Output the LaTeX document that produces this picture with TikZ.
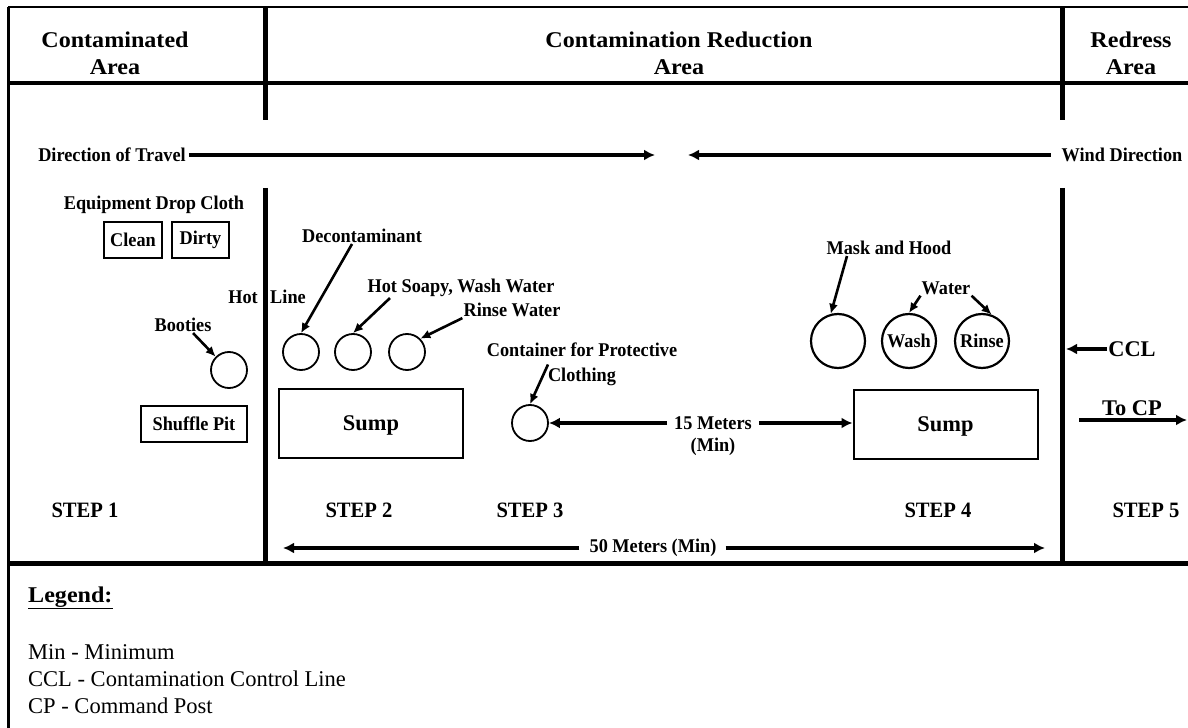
\documentclass[tikz,border=0pt]{standalone}
\usepackage{fontspec}
\setmainfont{Liberation Serif}
\newfontfamily\hdrfont[FakeStretch=1.07]{Liberation Serif}
\newfontfamily\lblfont[FakeStretch=0.94]{Liberation Serif}
\usetikzlibrary{arrows.meta}

\begin{document}
\begin{tikzpicture}[x=1bp, y=-1bp,
      hdr/.style={font=\hdrfont\bfseries\fontsize{22.6}{27}\selectfont, align=center},
      lbl/.style={font=\lblfont\bfseries\fontsize{19.5}{25}\selectfont, inner sep=1bp,
                  align=center},
      stp/.style={font=\lblfont\bfseries\fontsize{22}{26}\selectfont},
      big/.style={font=\bfseries\fontsize{22.5}{26}\selectfont, inner sep=1bp},
      box/.style={draw, line width=2bp, minimum height=36bp, inner sep=0pt},
      smp/.style={box, big, text depth=0pt, minimum width=184bp, minimum height=69bp},
      pot/.style={draw, circle, line width=1.8bp, minimum size=36bp, inner sep=0pt},
      tub/.style={pot, line width=2.2bp, minimum size=54bp},
      wall/.style={line width=5bp},
      arw/.style={line width=3.6bp, -{Latex[length=11bp,width=11bp]}},
      ptr/.style={line width=2.6bp, -{Latex[length=10bp,width=9bp]}},
      leg/.style={font=\fontsize{22.6}{27}\selectfont, align=left, anchor=west,
                  inner sep=0pt}]

    %% Geometry: one unit = one pixel of the 1188 x 728 sheet, y runs downwards.
    \useasboundingbox (0,0) rectangle (1188,728);

    %% ---- frame and the three area walls ----
    \draw[line width=2.5bp] (8,7) -- (1188,7);
    \draw[line width=3bp] (8,7) -- (8,728);
    \draw[line width=4.5bp] (8,83) -- (1188,83);
    \draw[wall] (8,563) -- (1188,563);
    \foreach \x in {265,1062} {
      \draw[wall] (\x,7) -- (\x,120);
      \draw[wall] (\x,188) -- (\x,563);
    }

    \node[hdr] (hCA) at (115,53.5) {Contaminated\\Area};
    \node[hdr] (hCR) at (679,53.5) {Contamination Reduction\\Area};
    \node[hdr] (hRA) at (1131,53.5) {Redress\\Area};

    %% ---- travel against the wind ----
    \node[lbl] (dot) at (112,155) {Direction of Travel};
    \coordinate (dotTip) at (655,155);
    \draw[arw, shorten <=2bp] (dot.east) -- (dotTip);
    \node[lbl] (wnd) at (1122,155) {Wind Direction};
    \coordinate (wndTip) at (688,155);
    \draw[arw, shorten <=10bp] (wnd.west) -- (wndTip);

    %% ---- step 1: contaminated area ----
    \node[lbl] (edc) at (154,205) {Equipment Drop Cloth};
    \node[lbl, box, minimum width=58bp] (cln) at (133,240) {Clean};
    \node[lbl, box, minimum width=57bp] (drt) at (200.5,240) {Dirty};
    \node[lbl] (hot) at (243,297) {Hot};
    \node[lbl] (hln) at (288,297) {Line};
    \node[lbl] (bts) at (183,325) {Booties};
    \node[pot] (bt) at (229,370) {};
    \draw[ptr] ([xshift=10bp]bts.south) -- (bt.135);
    \node[lbl, box, minimum width=106bp] (shf) at (194,424) {Shuffle Pit};

    %% ---- step 2: wash and rinse ----
    \node[pot] (dcn) at (301,352) {};
    \node[pot] (hsw) at (353,352) {};
    \node[pot] (rnw) at (407,352) {};
    \node[lbl] (dcnL) at (362,236) {Decontaminant};
    \node[lbl] (hswL) at (461,288) {Hot Soapy, Wash Water};
    \node[lbl] (rnwL) at (512,310) {Rinse Water};
    \draw[ptr] ([xshift=-10bp]dcnL.south) -- (dcn.north);
    \draw[ptr] ([xshift=-71bp]hswL.south) -- (hsw.north);
    \draw[ptr] (rnwL.south west) -- (rnw.45);
    \node[smp] (smp1) at (371,423.5) {Sump};

    %% ---- step 3: protective clothing, 15 m ahead of the second sump ----
    \node[pot] (cnt) at (530,423) {};
    \node[lbl] (cntL) at (582,364.5) {Container for Protective\\Clothing};
    \draw[ptr] ([xshift=-34bp]cntL.center) -- (cnt.north);
    \node[lbl] (m15) at (713,423) {15 Meters};
    \node[lbl] (m15b) at (713,447) {(Min)};

    %% ---- step 4: mask and hood ----
    \node[tub] (msk) at (838,341) {};
    \node[lbl, tub] (wsh) at (909,341) {Wash};
    \node[lbl, tub] (rns) at (982,341) {Rinse};
    \node[lbl] (mhL) at (889,248) {Mask and Hood};
    \draw[ptr] ([xshift=-42bp]mhL.south) -- (msk.105);
    \node[lbl] (wtr) at (946,288) {Water};
    \draw[ptr] (wtr.south west) -- (wsh.north);
    \draw[ptr] (wtr.south east) -- (rns.70);
    \node[smp] (smp2) at (945.5,424) {Sump};
    \draw[arw, shorten <=6bp] (m15.west) -- (cnt.east);
    \draw[arw, shorten <=6bp] (m15.east) -- (m15.east -| smp2.west);

    %% ---- step 5: redress area ----
    \node[big] (ccl) at (1132,349) {CCL};
    \coordinate (cclTip) at (1066,349);
    \draw[arw] (ccl.west) -- (cclTip);
    \node[big] (tcp) at (1132,408) {To CP};
    \coordinate (tcpA) at (1079,420);
    \coordinate (tcpB) at (1187,420);
    \draw[arw] (tcpA) -- (tcpB);

    \foreach \n/\x in {1/85, 2/359, 3/530, 4/938, 5/1146}
      \node[stp] (step\n) at (\x,510) {STEP \n};

    \node[lbl] (m50) at (653,548) {50 Meters (Min)};
    \coordinate (m50L) at (283,548);
    \coordinate (m50R) at (1045,548);
    \draw[arw, shorten <=9bp] (m50.west) -- (m50L);
    \draw[arw, shorten <=8bp] (m50.east) -- (m50R);

    %% ---- legend ----
    \node[font=\hdrfont\bfseries\fontsize{22.6}{27}\selectfont, anchor=west, inner sep=0pt]
      (legT) at (28,598) {\underline{Legend:}};
    \node[leg] (keys) at (28,679)
      {Min - Minimum\\CCL - Contamination Control Line\\CP - Command Post};
  \end{tikzpicture}
\end{document}
